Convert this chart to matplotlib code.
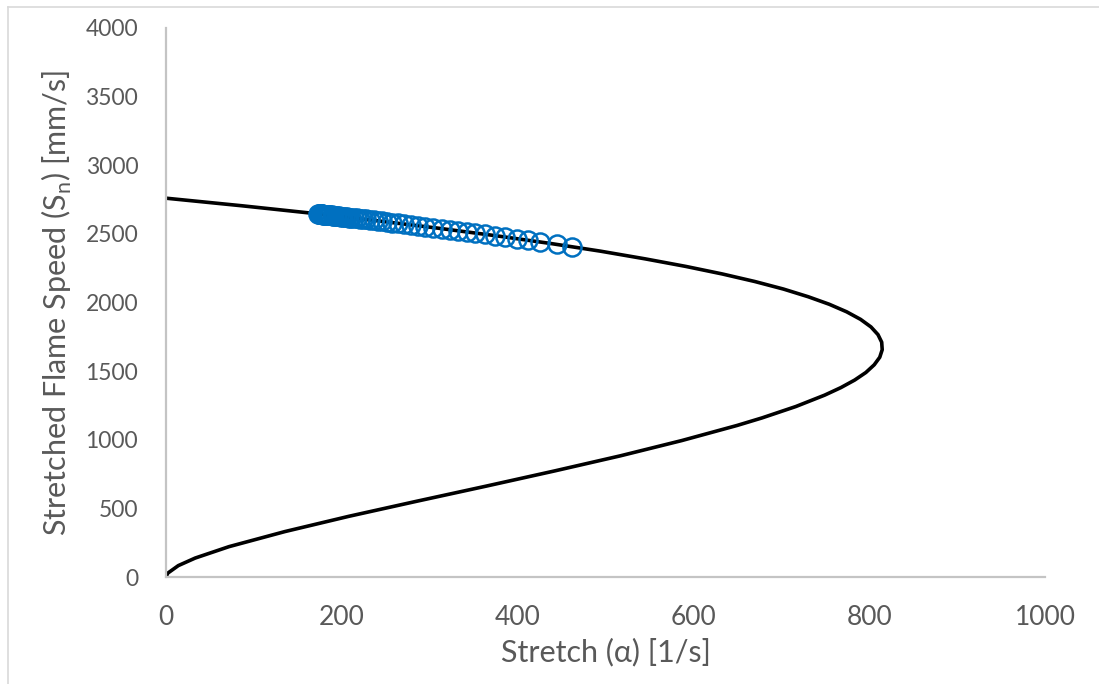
import matplotlib.pyplot as plt
from matplotlib.lines import Line2D

# Curve (extrapolation fit)
curve_stretch = [0, 86.0, 166.7, 242.3, 312.7, 378.1, 438.6, 494.3, 545.1, 591.3,
                 632.8, 669.8, 702.4, 730.6, 754.6, 774.4, 790.2, 802.0, 810.0, 814.2,
                 814.8, 812.0, 805.7, 796.2, 783.5, 767.8, 749.3, 716.5, 678.0, 649.6,
                 586.7, 517.0, 442.2, 364.2, 285.3, 207.9, 135.3, 71.6, 33.2, 14.0, 2.0, 0]
curve_speed = [2760, 2705, 2650, 2594, 2539, 2484, 2429, 2374, 2318, 2263,
               2208, 2153, 2098, 2042, 1987, 1932, 1877, 1822, 1766, 1711,
               1656, 1601, 1546, 1490, 1435, 1380, 1325, 1242, 1159, 1104,
               994, 883, 773, 662, 552, 442, 331, 221, 138, 83, 28, 0]

# Measured points
data_stretch = [173.3, 174, 174.8, 175.6, 176.4, 177.2, 178, 179, 180, 181, 182, 183, 184,
                185.5, 187, 188.5, 190, 191.5, 193, 195, 197, 199, 201, 203.5, 206, 208.5,
                211, 214, 217, 220.5, 224, 228, 232, 236.5, 241, 246, 251.5, 257.5, 264,
                271, 278.5, 286.5, 295, 304, 314, 323, 332, 342, 352, 363, 374, 386, 399,
                412, 425, 445, 462]
data_speed = [2645, 2645, 2644, 2644, 2643, 2643, 2642, 2641, 2640, 2640, 2639, 2638, 2638,
              2636, 2635, 2634, 2633, 2632, 2631, 2629, 2628, 2626, 2625, 2623, 2621, 2619,
              2617, 2615, 2613, 2610, 2608, 2605, 2602, 2599, 2595, 2591, 2587, 2582, 2577,
              2572, 2566, 2560, 2553, 2546, 2538, 2530, 2523, 2514, 2506, 2497, 2488, 2477, 2465,
              2453, 2441, 2423, 2406]

x_ticks = [0, 200, 400, 600, 800, 1000]
y_ticks = [0, 500, 1000, 1500, 2000, 2500, 3000, 3500, 4000]

plt.rcParams['font.family'] = ['Lato', 'DejaVu Sans']

fig = plt.figure(figsize=(10.99, 6.84), dpi=100)
ax = fig.add_axes([166 / 1099, 1 - 577 / 684, (1045 - 166) / 1099, (577 - 28) / 684])

ax.plot(curve_stretch, curve_speed, color='black', lw=2.6, zorder=2)
ax.plot(data_stretch, data_speed, linestyle='none', marker='o', markersize=13,
        markerfacecolor='none', markeredgecolor='#0070C0', markeredgewidth=1.8, zorder=3)

ax.set_xlim(0, 1000)
ax.set_ylim(0, 4000)
ax.set_xticks(x_ticks)
ax.set_yticks(y_ticks)

for side in ['top', 'right']:
    ax.spines[side].set_visible(False)
for side in ['left', 'bottom']:
    ax.spines[side].set_color('#C4C4C4')
    ax.spines[side].set_linewidth(1.6)

ax.tick_params(axis='both', length=0, colors='#595959')
ax.tick_params(axis='x', labelsize=19, pad=20)
ax.tick_params(axis='y', labelsize=16.5, pad=20)

ax.set_xlabel('Stretch (\u03b1) [1/s]', fontsize=22, color='#595959', labelpad=6)
ax.set_ylabel('Stretched Flame Speed (S$_\\mathregular{n}$) [mm/s]', fontsize=22,
              color='#595959', labelpad=8)

# chart area border (left and top edges visible)
fig.add_artist(Line2D([8 / 1099, 8 / 1099], [0, 1 - 7 / 684], transform=fig.transFigure,
                      color='#D9D9D9', lw=1.2))
fig.add_artist(Line2D([8 / 1099, 1], [1 - 7 / 684, 1 - 7 / 684], transform=fig.transFigure,
                      color='#D9D9D9', lw=1.2))

fig.savefig('out.png', dpi=100)
